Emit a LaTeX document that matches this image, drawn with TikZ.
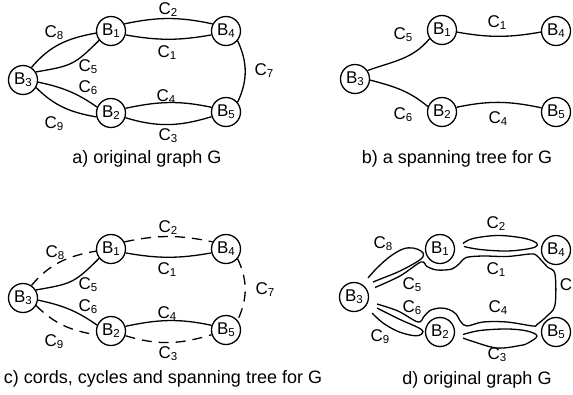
\documentclass[tikz,border=0pt]{standalone}
\usepackage{fontspec}
\setmainfont{Liberation Sans}
\newcommand\sbs[1]{\raisebox{-2pt}{\fontsize{11.5}{11.5}\selectfont #1}}
\newcommand\Clab[1]{C\sbs{#1}}
\newcommand\Blab[1]{B\sbs{#1}}
\begin{document}
\begin{tikzpicture}[x=1pt,y=1pt,
  nd/.style={circle,draw,line width=1.3pt,minimum size=29pt,inner sep=0pt,font=\fontsize{17}{17}\selectfont},
  ed/.style={line width=1.3pt},
  chord/.style={ed,dash pattern=on 10pt off 7pt},
  lbl/.style={inner sep=0pt,font=\fontsize{17}{17}\selectfont},
  ttl/.style={inner sep=0pt,font=\fontsize{18}{18}\selectfont}]
\useasboundingbox (0,0) rectangle (573,-394);

% ---------- panel a ----------
\node[nd] (aB1) at (111,-31) {\Blab1};
\node[nd] (aB4) at (226,-31) {\Blab4};
\node[nd] (aB3) at (23,-80) {\Blab3};
\node[nd] (aB2) at (111,-113) {\Blab2};
\node[nd] (aB5) at (226,-112) {\Blab5};
\draw[ed] (aB1.28) to[out=12,in=168] (aB4.152);
\draw[ed] (aB1.-15) to[out=-10,in=-170] (aB4.-165);
\draw[ed] (aB2.18) to[out=12,in=168] (aB5.162);
\draw[ed] (aB2.-18) to[out=-17,in=-163] (aB5.-162);
\draw[ed] (aB4.-40) to[out=-65,in=65] (aB5.40);
\draw[ed] (aB3.56) to[out=50,in=190] (aB1.188);
\draw[ed] (aB3.32) to[out=10,in=225,looseness=1.3] (aB1.218);
\draw[ed] (aB3.-8) to[out=-12,in=145] (aB2.157);
\draw[ed] (aB3.-30) to[out=-45,in=170] (aB2.195);
\node[lbl] (aC2) at (168,-10) {\Clab2};
\node[lbl] (aC1) at (167,-53) {\Clab1};
\node[lbl] (aC4) at (166,-97) {\Clab4};
\node[lbl] (aC3) at (168,-136) {\Clab3};
\node[lbl] (aC7) at (264,-71) {\Clab7};
\node[lbl] (aC8) at (54,-33) {\Clab8};
\node[lbl] (aC5) at (88,-67) {\Clab5};
\node[lbl] (aC6) at (88,-88) {\Clab6};
\node[lbl] (aC9) at (54,-124) {\Clab9};
\node[ttl] (ta) at (147,-159) {a) original graph G};

% ---------- panel b ----------
\node[nd] (bB1) at (442,-30) {\Blab1};
\node[nd] (bB4) at (556,-31) {\Blab4};
\node[nd] (bB3) at (355,-79) {\Blab3};
\node[nd] (bB2) at (442,-112) {\Blab2};
\node[nd] (bB5) at (556,-112) {\Blab5};
\draw[ed] (bB3.34) to[out=20,in=230] (bB1.215);
\draw[ed] (bB3.-4) to[out=-15,in=140] (bB2.159);
\draw[ed] (bB1.-8) to[out=-10,in=-170] (bB4.-176);
\draw[ed] (bB2.18) to[out=12,in=168] (bB5.164);
\node[lbl] (bC5) at (403,-35) {\Clab5};
\node[lbl] (bC1) at (497,-23) {\Clab1};
\node[lbl] (bC6) at (403,-115) {\Clab6};
\node[lbl] (bC4) at (498,-119) {\Clab4};
\node[ttl] (tb) at (457,-158.5) {b) a spanning tree for G};

% ---------- panel c ----------
\node[nd] (cB1) at (111,-249) {\Blab1};
\node[nd] (cB4) at (226,-249) {\Blab4};
\node[nd] (cB3) at (23,-298) {\Blab3};
\node[nd] (cB2) at (111,-331) {\Blab2};
\node[nd] (cB5) at (226,-330) {\Blab5};
\draw[chord] (cB1.28) to[out=12,in=168] (cB4.152);
\draw[ed] (cB1.-15) to[out=-10,in=-170] (cB4.-165);
\draw[ed] (cB2.18) to[out=12,in=168] (cB5.162);
\draw[chord] (cB2.-18) to[out=-17,in=-163] (cB5.-162);
\draw[chord] (cB4.-40) to[out=-65,in=65] (cB5.40);
\draw[chord] (cB3.56) to[out=50,in=190] (cB1.188);
\draw[ed] (cB3.32) to[out=10,in=225,looseness=1.3] (cB1.218);
\draw[ed] (cB3.-8) to[out=-12,in=145] (cB2.157);
\draw[chord] (cB3.-30) to[out=-45,in=170] (cB2.195);
\node[lbl] (cC2) at (168,-228) {\Clab2};
\node[lbl] (cC1) at (167,-270) {\Clab1};
\node[lbl] (cC4) at (167,-314) {\Clab4};
\node[lbl] (cC3) at (168,-354) {\Clab3};
\node[lbl] (cC7) at (265,-290) {\Clab7};
\node[lbl] (cC8) at (55,-253) {\Clab8};
\node[lbl] (cC5) at (88,-285) {\Clab5};
\node[lbl] (cC6) at (88,-307) {\Clab6};
\node[lbl] (cC9) at (54,-342) {\Clab9};
\node[ttl] (tc) at (163,-379) {c) cords, cycles and spanning tree for G};

% ---------- panel d ----------
\node[nd] (dB1) at (440,-249) {\Blab1};
\node[nd] (dB4) at (556,-250) {\Blab4};
\node[nd] (dB3) at (354,-297) {\Blab3};
\node[nd] (dB2) at (440,-332) {\Blab2};
\node[nd] (dB5) at (556,-332) {\Blab5};
% cycle of C8
\draw[ed] plot[smooth,tension=0.6] coordinates {(368,-278) (377,-268) (390,-256.5) (403,-249) (413,-248) (421,-251) (423.5,-255) (419,-260.5) (400,-271) (383,-278) (373,-282)};
% cycle of C9
\draw[ed] plot[smooth,tension=0.6] coordinates {(372,-313) (383,-323) (397,-331) (410,-335) (419,-335.5) (423,-331.5) (417,-327) (400,-319.5) (377,-308)};
% cycle of C2
\draw[ed] plot[smooth,tension=0.6] coordinates {(463,-243.5) (473,-238.5) (497,-235.5) (520,-237.5) (533,-241) (537.5,-245) (530,-248.5) (507,-251) (480,-249.5) (464,-246.5)};
% cycle of C3
\draw[ed] plot[smooth,tension=0.6] coordinates {(463,-334.5) (480,-330.5) (507,-329) (527,-331) (537,-336) (528,-343) (520,-345.5) (497,-348) (473,-341.5) (463,-338)};
% cycle of C7
\draw[ed] plot[smooth,tension=0.55] coordinates {(375,-287.5) (400,-276) (421,-262) (427,-266.5) (437,-270) (452,-269) (460,-263) (466,-257.5) (483,-256) (507,-256.5) (530,-254) (536,-255) (541,-260) (548,-267.5) (555,-274) (555,-305) (547,-316) (537,-324.5) (533,-326) (507,-322) (483,-322) (467,-326) (461,-322) (456,-314) (449,-309.5) (440,-308) (430,-310.5) (424,-316.5) (418,-322) (398,-311) (377,-304)};
\node[lbl] (dC8) at (383,-244) {\Clab8};
\node[lbl] (dC2) at (496,-224) {\Clab2};
\node[lbl] (dC1) at (496,-270) {\Clab1};
\node[lbl] (dC5) at (412,-285) {\Clab5};
\node[lbl] (dC7) at (566,-285) {C};
\node[lbl] (dC6) at (412,-308) {\Clab6};
\node[lbl] (dC4) at (498,-308) {\Clab4};
\node[lbl] (dC9) at (380,-337) {\Clab9};
\node[lbl] (dC3) at (497,-355) {\Clab3};
\node[ttl] (td) at (477,-380) {d) original graph G};
\end{tikzpicture}
\end{document}
